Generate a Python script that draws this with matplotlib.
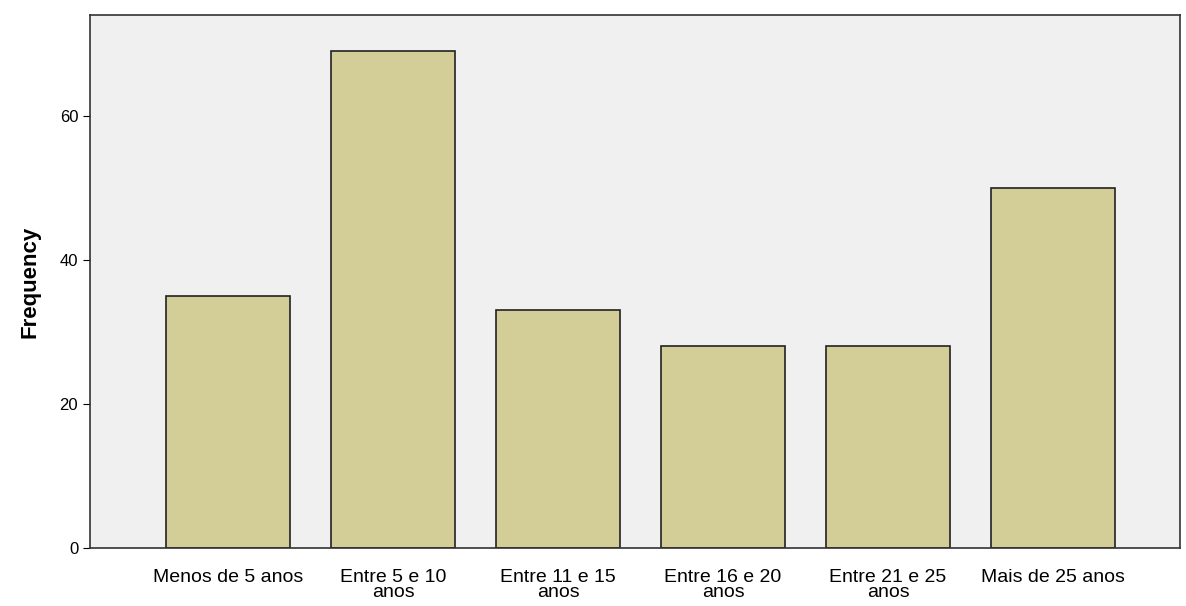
import matplotlib
matplotlib.use('Agg')
import matplotlib.pyplot as plt

plt.rcParams['font.family'] = ['Liberation Sans', 'DejaVu Sans']

categories = ['Menos de 5 anos', 'Entre 5 e 10\nanos', 'Entre 11 e 15\nanos',
              'Entre 16 e 20\nanos', 'Entre 21 e 25\nanos', 'Mais de 25 anos']
freq = [35, 69, 33, 28, 28, 50]

fig = plt.figure(figsize=(11.86, 6.06), dpi=100)
ax = fig.add_axes([90/1186, 58/606, 1090/1186, 533/606])
ax.set_facecolor('#f0f0f0')
x = list(range(len(categories)))
ax.bar(x, freq, width=0.75, color='#d3ce97', edgecolor='#222222', linewidth=1.2)
ax.set_xlim(-0.836, 5.77)
ax.set_ylim(0, 74)
ax.set_yticks([0, 20, 40, 60])
ax.set_xticks(x)
ax.set_xticklabels(categories, fontsize=14, linespacing=0.85)
ax.tick_params(axis='y', labelsize=12, length=5)
ax.tick_params(axis='x', length=0, pad=15)
ax.set_ylabel('Frequency', fontsize=16, fontweight='bold', labelpad=14)
for s in ax.spines.values():
    s.set_color('#333333')
    s.set_linewidth(1.2)
fig.savefig('out.png', dpi=100)
